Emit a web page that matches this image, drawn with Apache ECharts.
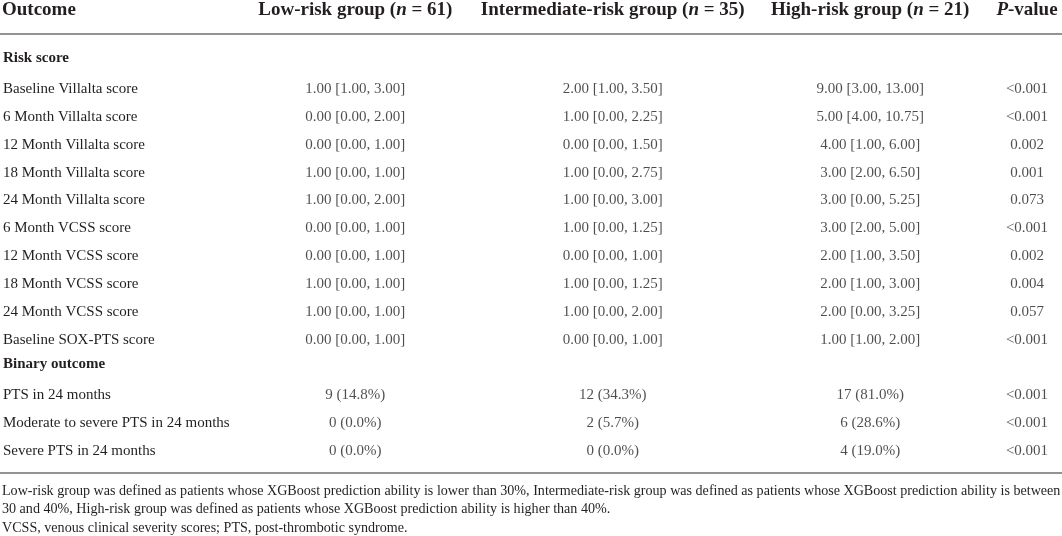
<!DOCTYPE html>
<html>
<head>
<meta charset="utf-8">
<script src="https://cdn.jsdelivr.net/npm/echarts@6/dist/echarts.min.js"></script>
<style>
  html, body { margin: 0; padding: 0; background: #ffffff; }
  #chart { width: 1062px; height: 536px; }
</style>
</head>
<body>
<div id="chart"></div>
<script>
// ---------- data ----------
const outcomes = [
  'Risk score',
  'Baseline Villalta score',
  '6 Month Villalta score',
  '12 Month Villalta score',
  '18 Month Villalta score',
  '24 Month Villalta score',
  '6 Month VCSS score',
  '12 Month VCSS score',
  '18 Month VCSS score',
  '24 Month VCSS score',
  'Baseline SOX-PTS score',
  'Binary outcome',
  'PTS in 24 months',
  'Moderate to severe PTS in 24 months',
  'Severe PTS in 24 months'
];
const sectionRows = ['Risk score', 'Binary outcome'];
const groups = ['Low-risk group', 'Intermediate-risk group', 'High-risk group'];
const groupN = [61, 35, 21];
const pHeader = 'P-value';

const lowRisk = [null, '1.00 [1.00, 3.00]', '0.00 [0.00, 2.00]', '0.00 [0.00, 1.00]', '1.00 [0.00, 1.00]', '1.00 [0.00, 2.00]',
  '0.00 [0.00, 1.00]', '0.00 [0.00, 1.00]', '1.00 [0.00, 1.00]', '1.00 [0.00, 1.00]', '0.00 [0.00, 1.00]',
  null, '9 (14.8%)', '0 (0.0%)', '0 (0.0%)'];
const intermediateRisk = [null, '2.00 [1.00, 3.50]', '1.00 [0.00, 2.25]', '0.00 [0.00, 1.50]', '1.00 [0.00, 2.75]', '1.00 [0.00, 3.00]',
  '1.00 [0.00, 1.25]', '0.00 [0.00, 1.00]', '1.00 [0.00, 1.25]', '1.00 [0.00, 2.00]', '0.00 [0.00, 1.00]',
  null, '12 (34.3%)', '2 (5.7%)', '0 (0.0%)'];
const highRisk = [null, '9.00 [3.00, 13.00]', '5.00 [4.00, 10.75]', '4.00 [1.00, 6.00]', '3.00 [2.00, 6.50]', '3.00 [0.00, 5.25]',
  '3.00 [2.00, 5.00]', '2.00 [1.00, 3.50]', '2.00 [1.00, 3.00]', '2.00 [0.00, 3.25]', '1.00 [1.00, 2.00]',
  null, '17 (81.0%)', '6 (28.6%)', '4 (19.0%)'];
const pValues = [null, '<0.001', '<0.001', '0.002', '0.001', '0.073',
  '<0.001', '0.002', '0.004', '0.057', '<0.001',
  null, '<0.001', '<0.001', '<0.001'];

const footnotes = [
  'Low-risk group was defined as patients whose XGBoost prediction ability is lower than 30%, Intermediate-risk group was defined as patients whose XGBoost prediction ability is between',
  '30 and 40%, High-risk group was defined as patients whose XGBoost prediction ability is higher than 40%.',
  'VCSS, venous clinical severity scores; PTS, post-thrombotic syndrome.'
];

// ---------- styling ----------
const FONT = "'Liberation Serif', 'DejaVu Serif', serif";
const INK = '#231f20';
const RULE = '#6f6f6f';
const BODY = 15;
const HEAD = 19;

const gridTop = 47.3, gridBottom = 71;
const grid1Left = 225.6, grid1Right = 63.1;

function cellData(values, col) {
  const out = [];
  values.forEach((v, r) => { if (v !== null) out.push([col, r, v]); });
  return out;
}

const cellLabel = {
  show: true,
  position: 'inside',
  formatter: p => p.value[2],
  color: INK,
  fontFamily: FONT,
  fontSize: BODY
};

const chart = echarts.init(document.getElementById('chart'), null, { renderer: 'canvas' });

const option = {
  animation: false,
  backgroundColor: '#ffffff',
  title: [
    {
      text: 'Outcome', left: 2, top: 1, padding: 0,
      textStyle: { fontFamily: FONT, fontSize: HEAD, fontWeight: 'bold', color: INK, lineHeight: 19 }
    },
    {
      text: footnotes.join('\n'), left: 2, top: 481.5, padding: 0,
      textStyle: { fontFamily: FONT, fontSize: 14.1, fontWeight: 'normal', color: INK, lineHeight: 18.7 }
    }
  ],
  graphic: [
    { type: 'line', shape: { x1: 0, y1: 34, x2: 1062, y2: 34 }, style: { stroke: RULE, lineWidth: 1.3 }, silent: true },
    { type: 'line', shape: { x1: 0, y1: 473, x2: 1062, y2: 473 }, style: { stroke: RULE, lineWidth: 1.3 }, silent: true }
  ],
  grid: [
    { left: grid1Left, right: grid1Right, top: gridTop, bottom: gridBottom },
    { left: 997, right: 5, top: gridTop, bottom: gridBottom }
  ],
  xAxis: [
    {
      gridIndex: 0, type: 'category', data: groups, position: 'top',
      axisLine: { show: false }, axisTick: { show: false }, splitLine: { show: false },
      axisLabel: {
        interval: 0, margin: gridTop - 10, verticalAlign: 'middle',
        color: INK, fontFamily: FONT, fontSize: HEAD, fontWeight: 'bold',
        formatter: (v, i) => v + ' ({i|n} = ' + groupN[i] + ')',
        rich: { i: { fontStyle: 'italic', fontWeight: 'bold', fontFamily: FONT, fontSize: HEAD, color: INK } }
      }
    },
    {
      gridIndex: 1, type: 'category', data: [pHeader], position: 'top',
      axisLine: { show: false }, axisTick: { show: false }, splitLine: { show: false },
      axisLabel: {
        interval: 0, margin: gridTop - 10, verticalAlign: 'middle',
        color: INK, fontFamily: FONT, fontSize: HEAD, fontWeight: 'bold',
        formatter: v => '{i|' + v.charAt(0) + '}' + v.slice(1),
        rich: { i: { fontStyle: 'italic', fontWeight: 'bold', fontFamily: FONT, fontSize: HEAD, color: INK } }
      }
    }
  ],
  yAxis: [
    {
      gridIndex: 0, type: 'category', data: outcomes, inverse: true,
      axisLine: { show: false }, axisTick: { show: false }, splitLine: { show: false },
      axisLabel: {
        interval: 0, align: 'left', margin: grid1Left - 2,
        color: INK, fontFamily: FONT, fontSize: BODY,
        formatter: v => sectionRows.includes(v) ? '{sec|' + v + '}' : v,
        rich: { sec: { fontWeight: 'bold', fontFamily: FONT, fontSize: BODY, color: INK, padding: [0, 0, 6, 0] } }
      }
    },
    {
      gridIndex: 1, type: 'category', data: outcomes, inverse: true, show: false
    }
  ],
  series: [
    { type: 'scatter', xAxisIndex: 0, yAxisIndex: 0, symbolSize: 1, itemStyle: { color: 'rgba(0,0,0,0)' }, label: cellLabel, data: cellData(lowRisk, 0), silent: true },
    { type: 'scatter', xAxisIndex: 0, yAxisIndex: 0, symbolSize: 1, itemStyle: { color: 'rgba(0,0,0,0)' }, label: cellLabel, data: cellData(intermediateRisk, 1), silent: true },
    { type: 'scatter', xAxisIndex: 0, yAxisIndex: 0, symbolSize: 1, itemStyle: { color: 'rgba(0,0,0,0)' }, label: cellLabel, data: cellData(highRisk, 2), silent: true },
    { type: 'scatter', xAxisIndex: 1, yAxisIndex: 1, symbolSize: 1, itemStyle: { color: 'rgba(0,0,0,0)' }, label: cellLabel, data: cellData(pValues, 0), silent: true }
  ]
};
chart.setOption(option);
</script>
</body>
</html>
